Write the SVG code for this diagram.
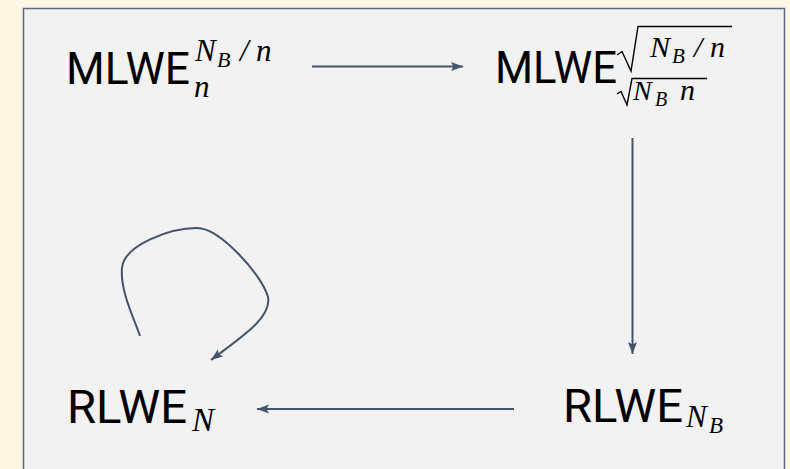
<svg xmlns="http://www.w3.org/2000/svg" width="790" height="469" viewBox="0 0 790 469">
  <defs>
    <marker id="head" markerUnits="userSpaceOnUse" markerWidth="13" markerHeight="10" refX="12" refY="5" orient="auto">
      <path d="M0,0.5 L12,5 L0,9.5 L2.5,5 Z" fill="#44546a"/>
    </marker>
    <style>
      .sans { font-family: "Roboto", "Lato", "Liberation Sans", sans-serif; font-size: 46px; fill: #000; }
      .math { font-family: "Liberation Serif", "DejaVu Serif", serif; font-style: italic; }
      .edge { fill: none; stroke: #44546a; stroke-width: 2; marker-end: url(#head); }
      .rad { fill: none; stroke: #000; stroke-width: 1.4; }
    </style>
  </defs>

  <!-- page background and panel -->
  <rect x="0" y="0" width="790" height="469" fill="#fef6e3"/>
  <rect x="23.5" y="8.5" width="761" height="480" fill="#f2f2f2" stroke="#5a6a82" stroke-width="1.5"/>

  <g id="mlwe-n">
    <text class="sans"><tspan x="66" y="84" font-size="45" textLength="124" lengthAdjust="spacingAndGlyphs">MLWE</tspan><tspan class="math" x="195" y="61" font-size="31">N</tspan><tspan class="math" x="217" y="67" font-size="22">B</tspan><tspan class="math" x="240" y="61" font-size="31">/</tspan><tspan class="math" x="256" y="61" font-size="31">n</tspan><tspan class="math" x="194" y="97" font-size="31">n</tspan></text>
  </g>

  <g id="mlwe-sqrt">
    <text class="sans"><tspan x="495" y="83" font-size="45" textLength="122" lengthAdjust="spacingAndGlyphs">MLWE</tspan><tspan class="math" x="650" y="57" font-size="30">N</tspan><tspan class="math" x="672" y="63" font-size="21">B</tspan><tspan class="math" x="694" y="57" font-size="30">/</tspan><tspan class="math" x="710" y="57" font-size="30">n</tspan><tspan class="math" x="633" y="100" font-size="28">N</tspan><tspan class="math" x="655" y="106" font-size="20">B</tspan><tspan class="math" x="680" y="100" font-size="30">n</tspan></text>
    <path class="rad" d="M617,55 L622,51.5 L631,71 L638,26.5 L732,26.5"/>
    <path class="rad" d="M617,94 L621,91.5 L627,105 L632,78.5 L707,78.5"/>
  </g>

  <g id="rlwe-n">
    <text class="sans"><tspan x="67" y="423" textLength="120" lengthAdjust="spacingAndGlyphs">RLWE</tspan><tspan class="math" x="192" y="431" font-size="33">N</tspan></text>
  </g>

  <g id="rlwe-nb">
    <text class="sans"><tspan x="563" y="422" textLength="120" lengthAdjust="spacingAndGlyphs">RLWE</tspan><tspan class="math" x="686" y="427" font-size="31">N</tspan><tspan class="math" x="709" y="433" font-size="23">B</tspan></text>
  </g>

  <g id="edges">
    <line class="edge" x1="312" y1="66.5" x2="463" y2="66.5"/>
    <line class="edge" x1="632.5" y1="138" x2="632.5" y2="354"/>
    <line class="edge" x1="514" y1="409" x2="257" y2="409"/>
    <path class="edge" d="M140,336 C133,316 120,290 122,268 C124,245 170,228 197,228 C220,228 262,275 268,297 C272,318 240,338 211,360"/>
  </g>
</svg>
